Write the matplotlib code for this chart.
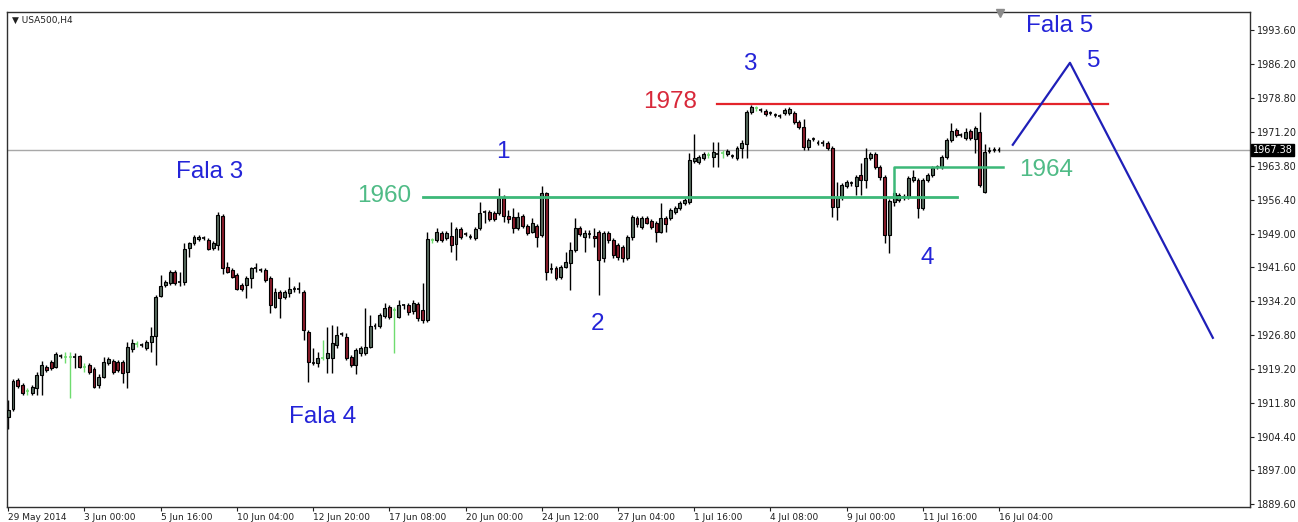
import matplotlib
matplotlib.use("Agg")
import matplotlib.pyplot as plt
import numpy as np

# ===== data: USA500 H4 candles =====

OPEN = [
    1908.8, 1910.5, 1916.9, 1915.8, 1914.5, 1914.0, 1915.1, 1918.0, 1919.7, 1920.8,
    1919.7, 1922.2, 1921.9, 1921.9, 1921.9, 1922.2, 1919.7, 1920.2, 1919.3, 1915.8,
    1917.5, 1920.6, 1921.1, 1920.8, 1920.8, 1918.6, 1923.7, 1924.8, 1924.6, 1923.9,
    1925.2, 1926.5, 1935.3, 1937.7, 1938.2, 1940.6, 1938.4, 1938.4, 1945.9, 1947.0,
    1947.8, 1948.1, 1947.6, 1945.9, 1946.5, 1952.9, 1941.7, 1941.0, 1939.9, 1937.7,
    1937.7, 1939.3, 1941.5, 1941.0, 1941.0, 1939.3, 1932.9, 1936.2, 1935.1, 1936.0,
    1936.9, 1936.9, 1936.2, 1927.4, 1920.6, 1920.6, 1921.7, 1921.7, 1921.7, 1924.6,
    1927.0, 1926.3, 1921.9, 1920.2, 1922.8, 1922.8, 1924.1, 1928.8, 1928.8, 1930.9,
    1932.9, 1932.3, 1930.7, 1933.2, 1933.2, 1932.0, 1933.6, 1932.3, 1930.1, 1947.6,
    1947.6, 1949.2, 1948.1, 1948.5, 1946.7, 1950.0, 1948.9, 1948.3, 1948.1, 1950.3,
    1953.8, 1953.8, 1953.5, 1953.5, 1956.8, 1952.9, 1952.7, 1950.3, 1952.9, 1950.7,
    1949.4, 1950.7, 1948.7, 1957.9, 1941.3, 1941.5, 1939.5, 1941.7, 1942.6, 1945.4,
    1950.3, 1948.3, 1948.9, 1948.5, 1949.4, 1943.7, 1949.2, 1947.6, 1946.5, 1946.1,
    1943.7, 1948.3, 1952.5, 1950.5, 1952.5, 1951.8, 1951.4, 1949.4, 1952.5, 1952.5,
    1953.8, 1954.6, 1955.7, 1956.0, 1965.0, 1964.7, 1965.6, 1966.3, 1965.8, 1966.5,
    1966.7, 1966.5, 1966.1, 1965.6, 1967.8, 1968.7, 1975.7, 1976.6, 1976.2, 1975.9,
    1975.5, 1975.1, 1974.8, 1975.5, 1975.5, 1975.5, 1973.5, 1972.4, 1968.0, 1969.8,
    1968.9, 1968.9, 1968.9, 1967.8, 1954.9, 1957.1, 1959.5, 1960.1, 1959.5, 1961.9,
    1960.8, 1965.6, 1966.5, 1963.7, 1961.4, 1948.7, 1956.0, 1956.4, 1957.1, 1957.1,
    1960.8, 1960.8, 1954.6, 1960.8, 1961.9, 1963.7, 1963.7, 1965.8, 1969.6, 1971.8,
    1970.7, 1970.0, 1971.5, 1969.8, 1971.3, 1958.2, 1967.2, 1967.4, 1967.4,
]
HIGH = [
    1912.5, 1917.1, 1917.3, 1916.2, 1915.1, 1915.8, 1918.6, 1921.1, 1920.2, 1921.3,
    1923.0, 1922.6, 1923.0, 1923.0, 1922.8, 1922.4, 1920.6, 1920.6, 1919.7, 1918.2,
    1921.9, 1921.9, 1921.5, 1921.3, 1921.3, 1925.2, 1925.9, 1925.5, 1925.0, 1925.7,
    1928.5, 1935.5, 1939.9, 1938.8, 1941.0, 1941.0, 1940.6, 1947.0, 1947.2, 1948.7,
    1948.7, 1948.5, 1948.1, 1947.4, 1953.8, 1953.3, 1942.8, 1941.5, 1940.4, 1938.2,
    1939.7, 1941.7, 1942.6, 1941.5, 1941.5, 1939.7, 1937.1, 1936.7, 1936.7, 1939.5,
    1937.5, 1938.4, 1936.7, 1927.9, 1923.9, 1923.0, 1925.7, 1928.5, 1929.0, 1928.8,
    1927.4, 1927.2, 1922.4, 1923.9, 1924.4, 1932.7, 1931.2, 1929.4, 1931.6, 1933.8,
    1933.4, 1932.9, 1934.5, 1933.6, 1933.8, 1934.5, 1934.0, 1938.2, 1949.4, 1948.1,
    1950.3, 1949.6, 1949.6, 1951.6, 1950.5, 1950.5, 1949.4, 1948.9, 1950.5, 1956.0,
    1954.2, 1954.2, 1954.0, 1959.0, 1957.5, 1954.2, 1954.6, 1953.8, 1953.3, 1951.2,
    1952.5, 1951.2, 1959.5, 1958.2, 1942.6, 1941.9, 1942.1, 1945.0, 1947.2, 1952.5,
    1950.7, 1949.8, 1949.8, 1950.3, 1949.8, 1949.6, 1949.6, 1948.1, 1947.0, 1946.5,
    1948.7, 1953.1, 1952.9, 1952.9, 1952.9, 1952.2, 1951.8, 1955.7, 1952.9, 1954.6,
    1955.1, 1956.2, 1956.8, 1966.7, 1970.9, 1966.3, 1966.9, 1966.9, 1969.1, 1969.1,
    1967.4, 1967.6, 1966.5, 1968.3, 1969.6, 1976.2, 1977.3, 1977.0, 1976.6, 1976.4,
    1975.9, 1975.5, 1975.3, 1976.6, 1976.8, 1975.9, 1974.0, 1974.2, 1970.0, 1970.2,
    1969.6, 1969.6, 1969.4, 1968.3, 1960.4, 1960.1, 1960.8, 1960.6, 1961.9, 1964.5,
    1967.8, 1966.9, 1966.9, 1964.1, 1961.9, 1956.6, 1958.4, 1957.9, 1957.7, 1961.7,
    1963.0, 1961.2, 1961.2, 1962.3, 1963.9, 1964.1, 1966.3, 1970.0, 1973.3, 1972.2,
    1971.1, 1972.2, 1972.0, 1972.6, 1975.7, 1968.7, 1968.0, 1968.0, 1967.9,
]
LOW = [
    1906.1, 1910.1, 1915.1, 1913.6, 1913.6, 1913.6, 1913.6, 1913.6, 1918.6, 1919.1,
    1919.5, 1921.7, 1920.6, 1912.9, 1919.5, 1919.5, 1918.6, 1918.2, 1915.1, 1915.1,
    1917.3, 1920.2, 1918.2, 1918.6, 1916.2, 1915.1, 1923.0, 1924.1, 1924.1, 1923.5,
    1923.0, 1920.2, 1935.1, 1937.3, 1937.7, 1937.7, 1937.5, 1937.7, 1943.9, 1946.5,
    1947.4, 1947.6, 1945.4, 1945.4, 1945.4, 1940.2, 1940.4, 1939.3, 1936.7, 1936.4,
    1934.9, 1937.1, 1940.6, 1940.6, 1938.4, 1931.6, 1932.7, 1930.5, 1934.7, 1935.1,
    1936.2, 1936.0, 1925.7, 1916.5, 1920.2, 1919.7, 1921.3, 1918.4, 1918.4, 1923.9,
    1926.5, 1921.3, 1919.7, 1918.2, 1922.2, 1922.4, 1923.9, 1928.1, 1928.3, 1930.5,
    1930.3, 1922.8, 1930.5, 1932.5, 1931.2, 1931.4, 1929.8, 1929.4, 1929.6, 1947.0,
    1947.2, 1947.2, 1947.6, 1945.0, 1943.2, 1947.8, 1948.5, 1947.8, 1947.6, 1949.8,
    1951.4, 1951.8, 1951.8, 1953.1, 1951.6, 1951.4, 1949.2, 1949.8, 1950.3, 1948.7,
    1949.2, 1946.1, 1948.3, 1938.8, 1940.4, 1938.8, 1939.1, 1941.5, 1936.7, 1945.0,
    1948.5, 1945.0, 1948.1, 1946.1, 1935.5, 1942.8, 1947.0, 1943.7, 1943.2, 1942.8,
    1943.2, 1947.6, 1950.5, 1950.0, 1951.0, 1950.0, 1947.2, 1949.2, 1949.4, 1952.0,
    1953.3, 1954.2, 1955.3, 1955.5, 1964.5, 1964.3, 1965.2, 1965.6, 1963.6, 1963.6,
    1965.6, 1966.1, 1965.6, 1965.2, 1965.6, 1965.6, 1975.3, 1975.9, 1975.7, 1974.8,
    1975.1, 1974.6, 1974.4, 1975.1, 1975.1, 1973.1, 1972.0, 1967.4, 1967.4, 1969.4,
    1968.5, 1968.3, 1967.4, 1952.7, 1952.0, 1956.4, 1959.0, 1959.5, 1957.5, 1957.5,
    1959.0, 1965.2, 1963.2, 1960.8, 1947.0, 1944.8, 1955.1, 1956.0, 1956.4, 1956.6,
    1960.4, 1952.5, 1954.2, 1960.4, 1961.4, 1963.2, 1963.2, 1965.4, 1969.1, 1970.2,
    1970.2, 1969.6, 1969.6, 1966.7, 1959.2, 1957.9, 1966.7, 1966.9, 1966.9,
]
CLOSE = [
    1910.3, 1916.7, 1915.6, 1914.0, 1914.5, 1915.4, 1918.0, 1920.2, 1919.1, 1919.5,
    1922.6, 1922.2, 1921.9, 1921.9, 1921.9, 1919.7, 1919.7, 1918.6, 1915.4, 1917.5,
    1920.8, 1921.5, 1918.6, 1919.1, 1918.4, 1924.1, 1925.0, 1924.8, 1924.6, 1925.2,
    1926.5, 1935.1, 1937.5, 1938.4, 1940.6, 1938.2, 1938.4, 1945.6, 1947.0, 1948.3,
    1948.3, 1948.1, 1945.6, 1947.0, 1953.1, 1941.5, 1940.6, 1939.5, 1936.9, 1936.9,
    1939.3, 1941.5, 1941.5, 1941.0, 1938.8, 1933.4, 1936.2, 1934.9, 1936.2, 1936.9,
    1936.9, 1936.9, 1927.9, 1920.8, 1920.6, 1921.7, 1921.7, 1922.8, 1925.0, 1926.8,
    1927.0, 1921.7, 1920.2, 1923.5, 1923.9, 1924.1, 1928.8, 1928.8, 1931.2, 1932.7,
    1930.7, 1932.3, 1933.4, 1933.2, 1931.8, 1933.8, 1930.5, 1930.1, 1947.8, 1947.6,
    1949.4, 1947.6, 1949.2, 1946.5, 1950.0, 1948.3, 1948.9, 1948.3, 1950.0, 1953.5,
    1953.8, 1952.2, 1952.2, 1956.8, 1952.9, 1952.2, 1950.3, 1952.7, 1950.7, 1949.2,
    1951.4, 1948.3, 1957.9, 1940.6, 1941.3, 1939.3, 1941.7, 1942.8, 1945.4, 1950.3,
    1948.9, 1949.2, 1948.9, 1948.1, 1943.2, 1949.2, 1947.6, 1944.3, 1943.9, 1943.7,
    1948.3, 1952.7, 1951.0, 1952.5, 1951.4, 1950.5, 1949.4, 1952.5, 1951.0, 1954.2,
    1954.6, 1955.7, 1956.4, 1965.2, 1965.6, 1965.8, 1966.5, 1966.3, 1966.9, 1966.5,
    1966.7, 1967.2, 1966.1, 1967.8, 1968.9, 1975.7, 1976.8, 1976.6, 1976.2, 1975.3,
    1975.5, 1975.1, 1974.8, 1976.2, 1976.4, 1973.5, 1972.4, 1968.0, 1969.6, 1969.8,
    1968.9, 1968.9, 1967.8, 1954.9, 1957.1, 1959.7, 1960.4, 1960.1, 1961.4, 1960.8,
    1965.6, 1966.5, 1963.7, 1961.4, 1948.7, 1956.2, 1957.9, 1957.5, 1957.1, 1961.2,
    1961.4, 1954.6, 1960.8, 1961.9, 1963.4, 1963.7, 1965.8, 1969.6, 1971.5, 1970.7,
    1970.7, 1971.3, 1970.0, 1972.2, 1959.7, 1966.9, 1967.2, 1967.4, 1967.4,
]
# doji bars drawn in the "bar up" light green
GREEN_DOJI = [4, 12, 13, 16, 27, 66, 81, 89, 147, 150, 157]

DATE_LABELS = ["29 May 2014", "3 Jun 00:00", "5 Jun 16:00", "10 Jun 04:00",
               "12 Jun 20:00", "17 Jun 08:00", "20 Jun 00:00", "24 Jun 12:00",
               "27 Jun 04:00", "1 Jul 16:00", "4 Jul 08:00", "9 Jul 00:00",
               "11 Jul 16:00", "16 Jul 04:00"]
DATE_STEP = 16  # bars between time labels

PRICE_TICKS = [1889.60, 1897.00, 1904.40, 1911.80, 1919.20, 1926.80, 1934.20,
               1941.60, 1949.00, 1956.40, 1963.80, 1971.20, 1978.80, 1986.20,
               1993.60]
LAST_PRICE = 1967.38

# drawn objects (bar index, price)
RES_1978 = 1977.5
SUP_1960 = 1957.06
SUP_1964 = 1963.6
WAVE5_X = [210.9, 222.9, 252.9]
WAVE5_Y = [1968.5, 1986.5, 1926.1]

LABELS_BLUE = [("Fala 3", 42.2, 1962.6), ("Fala 4", 65.9, 1908.8),
               ("Fala 5", 220.8, 1994.6), ("1", 103.9, 1966.9),
               ("2", 123.8, 1929.2), ("3", 155.7, 1986.2),
               ("4", 192.9, 1943.7), ("5", 227.9, 1986.9)]

# ===== colours =====
BULL = "#55685b"
BEAR = "#8a1c2b"
DOJI_G = "#6fdc6f"
BLUE_TXT = "#2424d8"
BLUE_LN = "#1f1fb8"
RED = "#e3242b"
GREEN = "#3cb878"

W, H = 1298, 522
fig = plt.figure(figsize=(W / 100, H / 100), dpi=100)
ax = fig.add_axes([7.3 / W, 15 / H, (1250 - 7.3) / W, (507 - 12) / H])

o = np.array(OPEN)
c = np.array(CLOSE)
hi = np.array(HIGH)
lo = np.array(LOW)
x = np.arange(len(o))
bw = 0.62

doji = np.abs(o - c) < 0.05
wick_col = ["black"] * len(x)
for i in GREEN_DOJI:
    wick_col[i] = DOJI_G
ax.vlines(x, lo, hi, colors=wick_col, linewidth=1, zorder=2)

up = (c > o) & ~doji
dn = (c < o) & ~doji
ax.bar(x[up], (c - o)[up], bottom=o[up], width=bw, color=BULL,
       edgecolor="black", linewidth=0.8, zorder=3)
ax.bar(x[dn], (o - c)[dn], bottom=c[dn], width=bw, color=BEAR,
       edgecolor="black", linewidth=0.8, zorder=3)
ax.hlines(o[doji], x[doji] - bw / 2, x[doji] + bw / 2,
          colors=[wick_col[i] for i in x[doji]], linewidth=1.2, zorder=3)

# last price line
ax.axhline(LAST_PRICE, color="#a8a8a8", linewidth=1, zorder=1)

# levels
ax.plot([148.8, 230.9], [RES_1978, RES_1978], color=RED, linewidth=1.6, zorder=4)
ax.plot([87.1, 199.2], [SUP_1960, SUP_1960], color=GREEN, linewidth=2, zorder=4)
ax.plot([185.9, 185.9, 208.8], [SUP_1960, SUP_1964, SUP_1964], color=GREEN,
        linewidth=1.8, zorder=4)
ax.plot(WAVE5_X, WAVE5_Y, color=BLUE_LN, linewidth=1.6, zorder=4)

lab = dict(fontsize=17.5, family="Liberation Sans", ha="center", va="center", zorder=5)
for t, tx, ty in LABELS_BLUE:
    ax.text(tx, ty, t, color=BLUE_TXT, **lab)
ax.text(138.9, 1977.9, "1978", color="#d8283a", **lab)
ax.text(78.9, 1957.3, "1960", color="#4fbb86", **lab)
ax.text(217.9, 1963.0, "1964", color="#4fbb86", **lab)

ax.set_xlim(-0.2, 260.7)
ax.set_ylim(1888.94, 1997.66)

ax.yaxis.tick_right()
ax.set_yticks(PRICE_TICKS)
ax.set_yticklabels([f"{v:.2f}" for v in PRICE_TICKS])
ax.tick_params(axis="y", direction="out", length=3, width=0.8, labelsize=7,
               pad=2, colors="#202020")
ax.set_xticks(np.arange(len(DATE_LABELS)) * DATE_STEP)
ax.set_xticklabels(DATE_LABELS, ha="left")
ax.tick_params(axis="x", direction="out", length=3, width=0.8, labelsize=6.5,
               pad=1, colors="#202020")
for s in ax.spines.values():
    s.set_color("#303030")
    s.set_linewidth(1)

# price box on the axis
ax.text(1.002, LAST_PRICE, f"{LAST_PRICE:.2f}", transform=ax.get_yaxis_transform(),
        ha="left", va="center", fontsize=7, color="white", clip_on=False,
        bbox=dict(boxstyle="square,pad=0.12", fc="black", ec="black"), zorder=6)

# chart shift marker and window caption
ax.plot([208.2], [1997.4], marker="v", color="#8c8c8c", markersize=6,
        clip_on=False, zorder=6)
fig.text(12 / W, 1 - 20 / H, "\u25bc USA500,H4", fontsize=6.5, va="center",
         color="#202020")

fig.savefig("out.png", dpi=100)
